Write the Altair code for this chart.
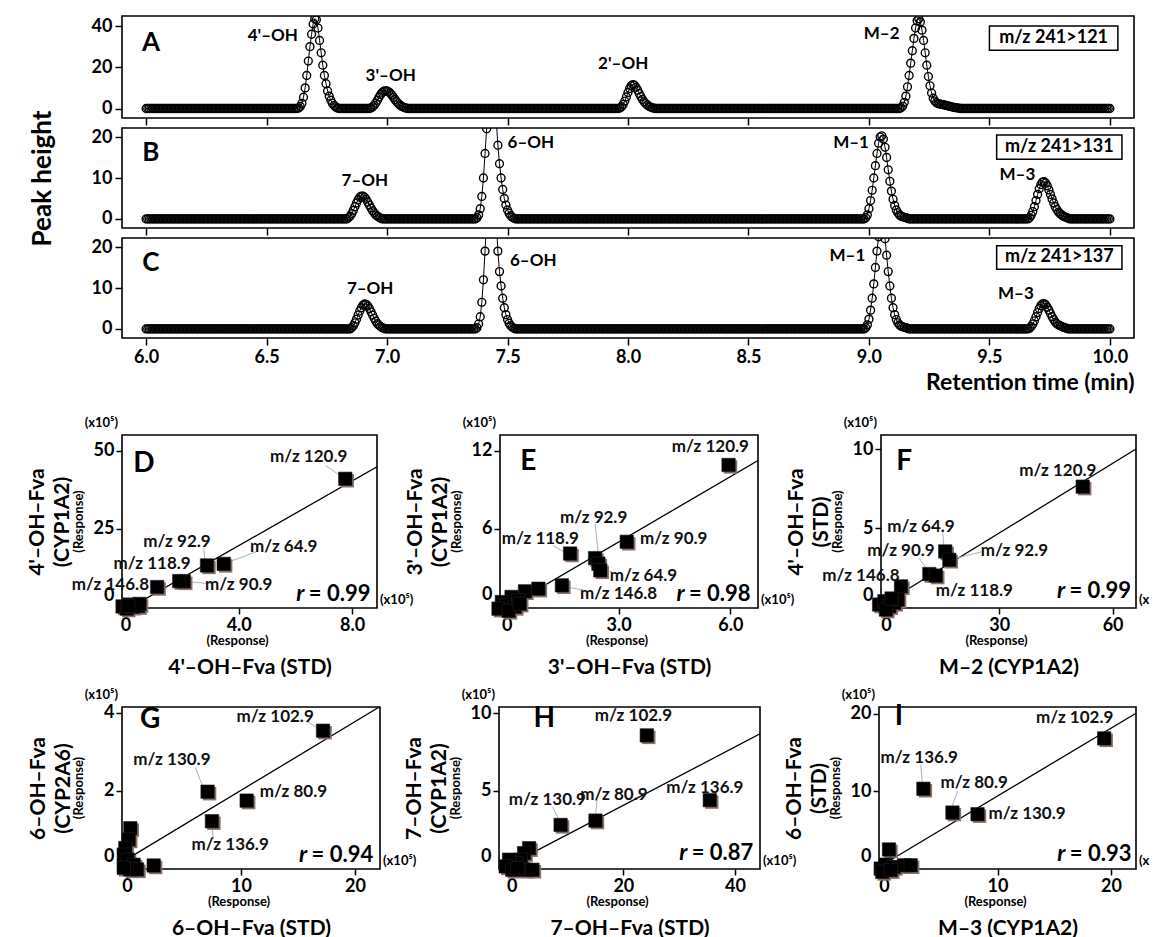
import numpy as np
import pandas as pd
import altair as alt

FONT = "Lato"

# ---------------- chromatograms A-C ----------------
T = np.round(np.linspace(6.0, 10.0, 601), 4)      # sampling grid, 1/150 min
XT = [6.0, 6.5, 7.0, 7.5, 8.0, 8.5, 9.0, 9.5, 10.0]

A_starts = [6.633, 6.933, 7.967, 9.133]
A_vals = [
    [0.3, 1.0, 2.5, 5.5, 10, 16, 23, 30, 36, 41, 43.5, 43, 39, 33, 27, 21, 16, 12, 8.5, 6, 4, 2.5, 1.5, 0.8, 0.3],
    [0.3, 0.8, 1.6, 2.7, 4.0, 5.5, 6.8, 7.8, 8.4, 8.6, 8.5, 8.1, 7.4, 6.5, 5.4, 4.3, 3.3, 2.4, 1.7, 1.1, 0.7, 0.4, 0.2],
    [0.3, 0.9, 2.0, 3.6, 5.6, 7.8, 9.7, 11.0, 11.6, 11.3, 10.3, 8.9, 7.3, 5.8, 4.4, 3.3, 2.4, 1.7, 1.1, 0.7, 0.4, 0.2],
    [0.4, 1.2, 3, 6, 10.5, 16, 22, 28, 34, 39, 42.5, 43.5, 42, 38, 33, 27, 21, 15.5, 11, 7.5, 5, 3.6, 2.8, 2.4,
     2.2, 2.0, 1.9, 1.7, 1.5, 1.3, 1.1, 0.9, 0.7, 0.5, 0.4, 0.3, 0.2],
]
B_starts = [6.84, 7.373, 8.987, 9.67]
B_vals = [
    [0.3, 0.7, 1.3, 2.1, 3.0, 3.9, 4.7, 5.3, 5.6, 5.6, 5.3, 4.8, 4.1, 3.4, 2.7, 2.0, 1.5, 1.0, 0.7, 0.4, 0.2],
    [0.3, 1.0, 2.5, 5.5, 10, 16, 22, 35, 50, 60, 50, 35, 24, 18, 13.5, 10, 7.2, 5, 3.4, 2.2, 1.4, 0.8, 0.4, 0.2],
    [0.3, 1, 2.5, 4.5, 7, 10, 13, 16, 18.5, 20, 20.3, 19.5, 17.5, 15, 12, 9.2, 6.8, 4.8, 3.3, 2.2, 1.5, 1.0, 0.7,
     0.5, 0.4, 0.3, 0.2],
    [0.3, 0.9, 1.8, 3.0, 4.5, 6.0, 7.4, 8.4, 9.0, 9.1, 8.8, 8.1, 7.1, 6.0, 4.9, 3.9, 3.0, 2.3, 1.7, 1.3, 1.0, 0.7,
     0.5, 0.35, 0.2],
]
C_starts = [6.853, 7.373, 8.987, 9.67]
C_vals = [
    [0.3, 0.8, 1.5, 2.4, 3.4, 4.4, 5.2, 5.8, 6.1, 6.0, 5.6, 5.0, 4.2, 3.4, 2.6, 1.9, 1.3, 0.9, 0.6, 0.3, 0.2],
    [0.3, 1.2, 3.0, 6.5, 12, 19, 27, 40, 55, 64, 55, 38, 26, 19, 14, 10.5, 7.5, 5.2, 3.5, 2.3, 1.4, 0.8, 0.4, 0.2],
    [0.3, 1.0, 2.4, 4.6, 7.5, 11, 15, 19, 22.5, 25, 26, 25, 22, 18, 14, 10.5, 7.5, 5.2, 3.5, 2.3, 1.5, 1.0, 0.7,
     0.5, 0.4, 0.3, 0.2],
    [0.2, 0.6, 1.2, 2.0, 3.0, 4.0, 5.0, 5.7, 6.1, 6.2, 5.9, 5.3, 4.6, 3.8, 3.0, 2.3, 1.7, 1.3, 1.0, 0.8, 0.6, 0.45,
     0.3, 0.2],
]

A_lab = (["4'–OH", "3'–OH", "2'–OH", "M–2"], [6.63, 7.015, 7.98, 9.127], [35, 15.8, 21.5, 36.3],
         ["right", "center", "center", "right"])
B_lab = (["7–OH", "6–OH", "M–1", "M–3"], [6.908, 7.50, 9.0, 9.616], [9.2, 18.5, 18.5, 10.7],
         ["center", "left", "right", "center"])
C_lab = (["7–OH", "6–OH", "M–1", "M–3"], [6.93, 7.51, 8.985, 9.61], [9.8, 16.7, 17.8, 8.5],
         ["center", "left", "right", "center"])
A_box = ("m/z 241>121", [9.50, 10.033], [28.3, 40.0])
B_box = ("m/z 241>131", [9.53, 10.05], [14.6, 20.5])
C_box = ("m/z 241>137", [9.53, 10.05], [14.6, 20.3])


def trace(starts, vals):
    y = np.zeros(len(T))
    for s, v in zip(starts, vals):
        i = int(round((s - 6.0) * 150))
        y[i:i + len(v)] = v
    return y


def helper(px, py):
    """invisible layout anchor (no data), pins the composition's bounds"""
    return (alt.Chart(pd.DataFrame({"s": [0]})).mark_rule(strokeOpacity=0, strokeWidth=1)
            .encode(x=alt.value(px), x2=alt.value(px), y=alt.value(py), y2=alt.value(py + 1)))


def chrom(starts, vals, ydom, yticks, labs, letter, letter_y, box, height, show_x, ytitle=None, xtitle=None,
          helpers=()):
    df = pd.DataFrame({"t": T, "y": trace(starts, vals)})
    xax = dict(values=XT, tickSize=7, labelFontSize=18, labelPadding=3, format=".1f", labels=show_x, title=xtitle)
    if xtitle:
        xax.update(titleFontSize=23, titleAnchor="end", titlePadding=5)
    yax = dict(values=yticks, tickSize=7, labelFontSize=18, labelPadding=3, title=ytitle)
    if ytitle:
        yax.update(titleFontSize=26, titlePadding=36)
    xs = alt.Scale(domain=[5.9, 10.1], nice=False, zero=False)
    ys = alt.Scale(domain=ydom, nice=False, zero=False)

    def X(f):
        return alt.X(f, type="quantitative", scale=xs, axis=alt.Axis(**xax))

    def Y(f):
        return alt.Y(f, type="quantitative", scale=ys, axis=alt.Axis(**yax))

    line = alt.Chart(df).mark_line(color="black", strokeWidth=1, clip=True).encode(x=X("t"), y=Y("y"))
    pts = alt.Chart(df).mark_point(shape="circle", filled=False, size=62, strokeWidth=1.4,
                                   color="black", opacity=1, clip=True).encode(x=X("t"), y=Y("y"))
    layers = [line, pts]
    ldf = pd.DataFrame({"text": labs[0], "t": labs[1], "y": labs[2], "al": labs[3]})
    for al in ["left", "center", "right"]:
        sub = ldf[ldf["al"] == al]
        if len(sub):
            layers.append(alt.Chart(sub).mark_text(font=FONT, fontSize=17, fontWeight="bold", color="black",
                                                   align=al, baseline="middle")
                          .encode(x=X("t"), y=Y("y"), text="text:N"))
    let_df = pd.DataFrame({"text": [letter], "t": [6.02], "y": [letter_y]})
    layers.append(alt.Chart(let_df).mark_text(font=FONT, fontSize=26, fontWeight="bold", color="black",
                                              baseline="middle").encode(x=X("t"), y=Y("y"), text="text:N"))
    bdf = pd.DataFrame({"text": [box[0]], "t1": [box[1][0]], "t2": [box[1][1]], "y1": [box[2][0]],
                        "y2": [box[2][1]], "tm": [(box[1][0] + box[1][1]) / 2],
                        "ym": [(box[2][0] + box[2][1]) / 2]})
    layers.append(alt.Chart(bdf).mark_rect(fill="white", stroke="black", strokeWidth=1.5)
                  .encode(x=X("t1"), x2="t2:Q", y=Y("y1"), y2="y2:Q"))
    layers.append(alt.Chart(bdf).mark_text(font=FONT, fontSize=18, fontWeight="bold", color="black",
                                           baseline="middle")
                  .encode(x=X("tm"), y=Y("ym"), text="text:N"))
    layers += [helper(px, py) for px, py in helpers]
    return alt.layer(*layers).properties(width=1012, height=height)


pA = chrom(A_starts, A_vals, [-4.6, 44.85], [0, 20, 40], A_lab, "A", 32, A_box, 102, False,
           helpers=[(-113, -5)])
pB = chrom(B_starts, B_vals, [-2.2, 22.2], [0, 10, 20], B_lab, "B", 16, B_box, 100, False, ytitle="Peak  height")
pC = chrom(C_starts, C_vals, [-2.2, 22.2], [0, 10, 20], C_lab, "C", 16, C_box, 100, True,
           xtitle="Retention time (min)", helpers=[(10, 175)])

# ---------------- scatter panels D-I (x10^5 response units) ----------------
D_x = [7.76, 3.47, 2.88, 2.06, 1.90, 1.12, -0.1, 0.05, 0.15, 0.25, 0.35, 0.45, 0.5, 0.1]
D_y = [41.0, 13.8, 13.3, 8.2, 8.3, 6.4, 0.2, -0.5, 0.8, 0.1, 0.6, 0.3, 1.0, 0.4]
E_x = [5.95, 3.22, 2.37, 2.46, 2.51, 1.70, 1.48, 0.85, 0.49, 0.13, -0.13, 0.0, 0.22, -0.22, 0.31, 0.05, 0.35]
E_y = [10.9, 5.0, 3.75, 3.32, 2.81, 4.1, 1.66, 1.40, 1.2, 0.77, 0.38, 0.13, 0.0, -0.13, 0.51, -0.3, 0.25]
F_x = [52.1, 15.7, 16.8, 11.5, 13.2, 4.0, -1.8, -0.4, 0.9, 2.2, 3.1, 0.0, 1.5]
F_y = [7.63, 3.53, 3.0, 2.1, 2.0, 1.32, 0.17, 0.38, 0.06, 0.27, 0.48, -0.15, 0.55]
G_x = [17.2, 7.07, 10.5, 7.45, 2.34, 0.29, 0.15, -0.15, -0.29, 0.06, 0.58, 0.29, 0.88, -0.29]
G_y = [3.54, 1.97, 1.74, 1.21, 0.07, 1.03, 0.74, 0.52, 0.35, 0.22, 0.09, -0.03, -0.03, 0.01]
H_x = [24.2, 35.5, 15.0, 8.75, 3.1, 2.2, 1.6, 0.7, -0.5, -1.1, 0.1, 2.5, 3.7, 1.0]
H_y = [8.57, 4.4, 3.08, 2.80, 1.3, 0.98, 0.56, 0.34, 0.56, 0.13, -0.09, -0.09, -0.09, 0.02]
I_x = [19.4, 3.47, 6.03, 8.24, 0.44, -0.29, 0.15, 0.88, 1.76, 2.35, -0.15, 0.6]
I_y = [16.8, 10.3, 7.23, 7.02, 2.47, 0.0, 0.51, 0.21, 0.43, 0.43, -0.43, -0.2]

D_lab = (["m/z 120.9", "m/z 92.9", "m/z 118.9", "m/z 64.9", "m/z 90.9", "m/z 146.8"],
         [6.47, 1.82, 0.94, 5.59, 4.0, -0.53], [47.9, 20.9, 13.9, 19.1, 6.9, 6.9])
D_lead = ([7.06, 2.76, 4.65, 3.06], [45.2, 18.9, 17.8, 7.4], [7.59, 2.82, 3.71, 2.35], [42.0, 14.4, 14.6, 8.0])
E_lab = (["m/z 120.9", "m/z 92.9", "m/z 118.9", "m/z 90.9", "m/z 64.9", "m/z 146.8"],
         [5.46, 2.33, 0.9, 4.48, 3.67, 3.0], [12.3, 6.8, 5.2, 5.2, 2.4, 1.0])
E_lead = ([2.37, 1.25, 2.91, 2.1], [6.4, 4.7, 2.55, 1.28], [2.46, 1.61, 2.64, 1.61], [3.95, 4.1, 2.93, 1.53])
F_lab = (["m/z 120.9", "m/z 64.9", "m/z 90.9", "m/z 92.9", "m/z 146.8", "m/z 118.9"],
         [45.5, 9.3, 4.0, 34.0, -6.6, 23.4], [8.6, 5.1, 3.57, 3.57, 2.0, 1.0])
F_lead = ([15.0, 8.8, 25.2], [4.8, 3.1, 3.5], [15.4, 11.3, 18.5], [3.8, 2.27, 3.1])
G_lab = (["m/z 102.9", "m/z 130.9", "m/z 80.9", "m/z 136.9"], [13.0, 3.94, 14.6, 9.05], [3.9, 2.79, 1.97, 0.61])
G_lead = ([15.8, 6.0, 7.6], [3.77, 2.6, 0.75], [16.8, 6.7, 7.45], [3.6, 2.06, 1.05])
H_lab = (["m/z 102.9", "m/z 80.9", "m/z 130.9", "m/z 136.9"], [21.8, 18.3, 6.37, 34.6], [9.85, 4.72, 4.4, 5.2])
H_lead = ([15.3, 7.3], [4.4, 3.97], [15.0, 8.45], [3.44, 3.12])
I_lab = (["m/z 102.9", "m/z 136.9", "m/z 80.9", "m/z 130.9"], [16.8, 3.1, 7.94, 12.6], [19.4, 14.3, 11.1, 7.0])
I_lead = ([3.24, 6.5], [13.4, 10.0], [3.38, 6.0], [10.85, 8.1])

ZERO_UP = {"condition": {"test": "datum.value === 0", "value": -12}, "value": 0}
HIDE0 = {"condition": {"test": "datum.value === 0", "value": 0}, "value": 1}


def scatter(xs, ys, xdom, ydom, xt, yt, one_dec, ytitle, xtitle, w, h, lab, lead, letter, letpos, rpos, rtext,
            helpers=(), edge=False):
    pts = pd.DataFrame({"x": xs, "y": ys})
    xax = dict(values=xt, title=xtitle, titleFontSize=21, titlePadding=22, labelFontSize=18, tickSize=6,
               labelPadding=2, tickOpacity=HIDE0)
    if one_dec:
        xax["labelExpr"] = "datum.value === 0 ? '0' : format(datum.value, '.1f')"
    else:
        xax["format"] = "d"
    yax = dict(values=yt, title=ytitle, titleFontSize=21, titleLineHeight=25, titlePadding=21, labelFontSize=18,
               tickSize=6, labelPadding=2, format="d", labelOffset=ZERO_UP, tickOpacity=HIDE0, minExtent=28)
    xsc = alt.Scale(domain=xdom, nice=False, zero=False)
    ysc = alt.Scale(domain=ydom, nice=False, zero=False)

    def X(f):
        return alt.X(f, type="quantitative", scale=xsc, axis=alt.Axis(**xax))

    def Y(f):
        return alt.Y(f, type="quantitative", scale=ysc, axis=alt.Axis(**yax))

    reg = (alt.Chart(pts).transform_regression("x", "y", extent=[0, xdom[1]])
           .mark_line(color="black", strokeWidth=1.3, clip=True).encode(x=X("x"), y=Y("y")))
    shadow = alt.Chart(pts).mark_square(size=180, color="#8a7268", opacity=1, xOffset=2, yOffset=2).encode(
        x=X("x"), y=Y("y"))
    sq = alt.Chart(pts).mark_square(size=180, color="black", opacity=1, stroke="#222222", strokeWidth=0.6).encode(
        x=X("x"), y=Y("y"))
    ldf = pd.DataFrame({"x": lead[0], "y": lead[1], "x2": lead[2], "y2": lead[3]})
    leaders = alt.Chart(ldf).mark_rule(color="#a6b4ba", strokeWidth=1).encode(
        x=X("x"), y=Y("y"), x2="x2:Q", y2="y2:Q")
    tdf = pd.DataFrame({"text": lab[0], "x": lab[1], "y": lab[2]})
    labels = alt.Chart(tdf).mark_text(font=FONT, fontSize=17, fontWeight="bold", color="#111111",
                                      baseline="middle").encode(x=X("x"), y=Y("y"), text="text:N")
    let_df = pd.DataFrame({"text": [letter], "x": [letpos[0]], "y": [letpos[1]]})
    let = alt.Chart(let_df).mark_text(font=FONT, fontSize=28, fontWeight="bold", color="black",
                                      baseline="middle").encode(x=X("x"), y=Y("y"), text="text:N")
    rdf = pd.DataFrame({"text": [rtext], "r": ["r"], "x": [rpos[0]], "y": [rpos[1]]})
    rval = alt.Chart(rdf).mark_text(font=FONT, fontSize=22, fontWeight="bold", color="black", align="right",
                                    baseline="middle").encode(x=X("x"), y=Y("y"), text="text:N")
    rsym = alt.Chart(rdf).mark_text(font=FONT, fontSize=23, fontWeight="bold", fontStyle="italic", color="black",
                                    align="right", baseline="middle", dx=-66).encode(x=X("x"), y=Y("y"), text="r:N")
    ann = pd.DataFrame({"s": ["(x10⁵)"], "r": ["(Response)"]})
    e_y = alt.Chart(ann).mark_text(font=FONT, fontSize=13, fontWeight="bold", color="black", align="right",
                                   baseline="bottom").encode(x=alt.value(-4), y=alt.value(-5), text="s:N")
    ex_kw = dict(limit=16, ellipsis="\u200b") if edge else {}
    e_x = alt.Chart(ann).mark_text(font=FONT, fontSize=13, fontWeight="bold", color="black", align="left",
                                   baseline="bottom", **ex_kw).encode(x=alt.value(w + 3), y=alt.value(h - 1),
                                                                      text="s:N")
    r_x = alt.Chart(ann).mark_text(font=FONT, fontSize=13, fontWeight="bold", color="black",
                                   baseline="middle").encode(x=alt.value(w / 2 - 12), y=alt.value(h + 33), text="r:N")
    r_y = alt.Chart(ann).mark_text(font=FONT, fontSize=13, fontWeight="bold", color="black", angle=270,
                                   baseline="middle").encode(x=alt.value(-43), y=alt.value(h / 2), text="r:N")
    layers = [reg, leaders, shadow, sq, labels, let, rval, rsym, e_y, e_x, r_x, r_y]
    layers += [helper(px, py) for px, py in helpers]
    return alt.layer(*layers).properties(width=w, height=h)


pD = scatter(D_x, D_y, [-0.12, 8.88], [-0.3, 55], [0, 4, 8], [0, 25, 50], True, ["4'–OH–Fva", "(CYP1A2)"],
             "4'–OH–Fva (STD)", 255, 173, D_lab, D_lead, "D", (0.65, 45.7), (8.65, 4.3), "= 0.99",
             helpers=[(-110, -19), (10, 173 + 77)])
pE = scatter(E_x, E_y, [-0.18, 6.74], [-0.08, 13.2], [0, 3, 6], [0, 6, 12], True, ["3'–OH–Fva", "(CYP1A2)"],
             "3'–OH–Fva (STD)", 258, 173, E_lab, E_lead, "E", (0.58, 11.1), (6.54, 1.0), "= 0.98")
pF = scatter(F_x, F_y, [-1.3, 66.2], [-0.05, 10.9], [0, 30, 60], [0, 5, 10], False, ["4'–OH–Fva", "(STD)"],
             "M–2 (CYP1A2)", 255, 173, F_lab, F_lead, "F", (4.85, 9.2), (64.9, 1.0), "= 0.99", edge=True)
pG = scatter(G_x, G_y, [-0.44, 22.2], [-0.02, 4.15], [0, 10, 20], [0, 2, 4], False, ["6–OH–Fva", "(CYP2A6)"],
             "6–OH–Fva (STD)", 258, 162, G_lab, G_lead, "G", (2.04, 3.81), (21.6, 0.35), "= 0.94",
             helpers=[(-110, -19)])
pH = scatter(H_x, H_y, [-2.3, 44.5], [-0.04, 10.4], [0, 20, 40], [0, 5, 10], False, ["7–OH–Fva", "(CYP1A2)"],
             "7–OH–Fva (STD)", 261, 162, H_lab, H_lead, "H", (5.8, 9.64), (43.3, 0.98), "=  0.87")
pI = scatter(I_x, I_y, [-0.44, 22.2], [-0.05, 20.85], [0, 10, 20], [0, 10, 20], False, ["6–OH–Fva", "(STD)"],
             "M–3 (CYP1A2)", 257, 162, I_lab, I_lead, "I", (1.32, 19.6), (21.8, 1.9), "= 0.93", edge=True)

top = alt.vconcat(pA, pB, pC, spacing=10, bounds="flush")
row2 = alt.hconcat(pD, pE, pF, spacing=123, bounds="flush")
row3 = alt.hconcat(pG, pH, pI, spacing=119, bounds="flush")

chart = (alt.vconcat(top, row2, row3, spacing=0)
         .properties(padding={"left": 0, "top": 2, "right": 0, "bottom": 2}, background="white")
         .configure_view(stroke="black", strokeWidth=1.6)
         .configure_axis(labelFont=FONT, titleFont=FONT, labelFontWeight="bold", titleFontWeight="bold",
                         labelColor="black", titleColor="black", tickColor="black", tickWidth=1.5,
                         domain=False, grid=False))

chart.save("out.html", embed_options={"renderer": "svg", "actions": False})
